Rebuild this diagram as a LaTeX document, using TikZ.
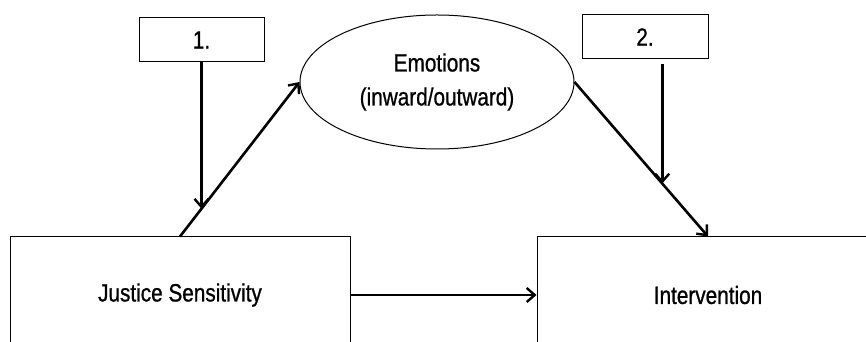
\documentclass[tikz,border=0pt]{standalone}
\usepackage{fontspec}
\setmainfont{Liberation Sans}[FakeStretch=0.83,FakeBold=0.8]
\usetikzlibrary{arrows.meta,shapes.geometric}
\begin{document}
\begin{tikzpicture}[x=1pt,y=1pt,
  font=\fontsize{25}{34}\selectfont,
  box/.style={draw,line width=1pt,minimum width=#1,minimum height=44pt,inner sep=0pt},
  bigbox/.style={draw,line width=1pt,minimum width=#1,minimum height=116pt,inner sep=0pt},
  pfeil/.style={line width=2.6pt,-{Straight Barb[length=8pt,width=14pt,line width=2.4pt]}}]
\clip (0,0) rectangle (866,342);
\node[box=125pt] (eins) at (201.5,302) {1.};
\node[box=126pt] (zwei) at (645,305) {2.};
\node[draw,ellipse,line width=1pt,minimum width=274pt,minimum height=134pt,inner sep=0pt,align=center] (emo) at (437,260) {Emotions\\(inward/outward)};
\node[bigbox=340pt] (js) at (180,47) {Justice Sensitivity};
\node[bigbox=342pt] (int) at (708,47) {Intervention};
\draw[pfeil] (js.north) -- (emo.west) coordinate[pos=0.18] (m1);
\draw[pfeil] (emo.east) -- (int.north) coordinate[pos=0.657] (m2);
\draw[pfeil] (js.east) -- (int.west);
\draw[pfeil] (eins.south) -- (eins.south |- m1);
\draw[pfeil] ([yshift=-5pt]m2 |- zwei.south) -- (m2);
\end{tikzpicture}
\end{document}
